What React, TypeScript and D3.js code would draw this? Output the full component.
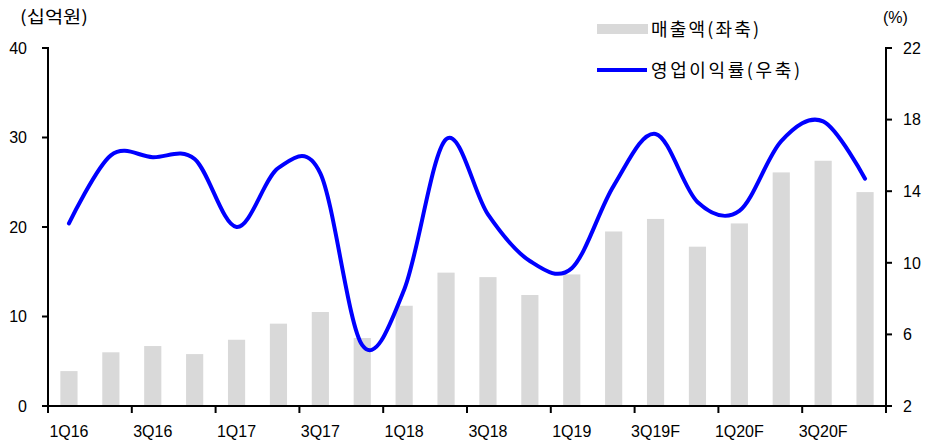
import React from "react";
import * as d3 from "d3";

const categories = ["1Q16","2Q16","3Q16","4Q16","1Q17","2Q17","3Q17","4Q17","1Q18","2Q18","3Q18","4Q18","1Q19","2Q19","3Q19F","4Q19F","1Q20F","2Q20F","3Q20F","4Q20F"];
const sales = [3.9,6.0,6.7,5.8,7.4,9.2,10.5,7.6,11.2,14.9,14.4,12.4,14.7,19.5,20.9,17.8,20.4,26.1,27.4,23.9];
const opMargin = [12.2,16.0,15.9,15.8,12.0,15.3,15.0,5.4,8.5,16.9,12.7,10.1,9.7,14.3,17.2,13.4,12.9,16.8,17.9,14.7];
const leftTicks = [0,10,20,30,40];
const rightTicks = [2,6,10,14,18,22];
const leftUnit = "(십억원)";
const rightUnit = "(%)";
const legendSales = "매출액(좌축)";
const legendMargin = "영업이익률(우축)";

const W = 935, H = 443;
const L = 48, R = 886, T = 48, B = 406;
const numFont = "'Liberation Sans', Arial, sans-serif";
const krFont = "'Noto Sans CJK KR', 'Liberation Sans', sans-serif";

export default function App() {
  const x = d3.scaleBand<string>().domain(categories).range([L, R]).paddingInner(0.59).paddingOuter(0.295);
  const step = x.step();
  const yL = d3.scaleLinear().domain([0, 40]).range([B, T]);
  const yR = d3.scaleLinear().domain([2, 22]).range([B, T]);
  const cx = (c: string) => (x(c) as number) + x.bandwidth() / 2;
  const line = d3.line<number>()
    .x((_, i) => cx(categories[i]))
    .y((d) => yR(d))
    .curve(d3.curveCatmullRom.alpha(0));
  const boundaries = d3.range(0, categories.length + 1, 2).map((i) => L + i * step);

  return (
    <svg width={W} height={H} style={{ position: "absolute", left: 0, top: 0, background: "#fff" }}>
      {sales.map((v, i) => (
        <rect key={i} x={x(categories[i])} y={yL(v)} width={x.bandwidth()} height={B - yL(v)} fill="#d9d9d9" />
      ))}
      <path d={line(opMargin) || ""} fill="none" stroke="#0000ff" strokeWidth={4} strokeLinejoin="round" strokeLinecap="round" />

      <line x1={L} x2={L} y1={T - 1} y2={B + 1} stroke="#000" strokeWidth={2} />
      {leftTicks.map((t) => (
        <g key={t}>
          <line x1={L - 6} x2={L} y1={yL(t)} y2={yL(t)} stroke="#000" strokeWidth={2} />
          <text x={27} y={yL(t)} dy="0.36em" textAnchor="end" fontFamily={numFont} fontSize={16} fill="#000">{t}</text>
        </g>
      ))}
      <line x1={R} x2={R} y1={T - 1} y2={B + 1} stroke="#000" strokeWidth={2} />
      {rightTicks.map((t) => (
        <g key={t}>
          <line x1={R} x2={R + 6} y1={yR(t)} y2={yR(t)} stroke="#000" strokeWidth={2} />
          <text x={903} y={yR(t)} dy="0.36em" textAnchor="start" fontFamily={numFont} fontSize={16} fill="#000">{t}</text>
        </g>
      ))}
      <line x1={L - 1} x2={R + 1} y1={B} y2={B} stroke="#000" strokeWidth={2} />
      {boundaries.map((bx, i) => (
        <line key={i} x1={bx} x2={bx} y1={B} y2={B + 7} stroke="#000" strokeWidth={2} />
      ))}
      {categories.map((c, i) => i % 2 === 0 ? (
        <text key={c} x={cx(c)} y={437} textAnchor="middle" fontFamily={numFont} fontSize={16} fill="#000">{c}</text>
      ) : null)}

      <text x={20} y={23} fontFamily={krFont} fontSize={17} fill="#000" textLength={68} lengthAdjust="spacingAndGlyphs">{leftUnit}</text>
      <text x={883} y={23} fontFamily={numFont} fontSize={16} fill="#000">{rightUnit}</text>

      <rect x={597} y={24} width={51} height={10} fill="#d9d9d9" />
      <text x={651} y={36} fontFamily={krFont} fontSize={18} fill="#000" textLength={108} lengthAdjust="spacing">{legendSales}</text>
      <line x1={597} x2={647} y1={70} y2={70} stroke="#0000ff" strokeWidth={4} />
      <text x={651} y={77} fontFamily={krFont} fontSize={18} fill="#000" textLength={149} lengthAdjust="spacing">{legendMargin}</text>
    </svg>
  );
}
